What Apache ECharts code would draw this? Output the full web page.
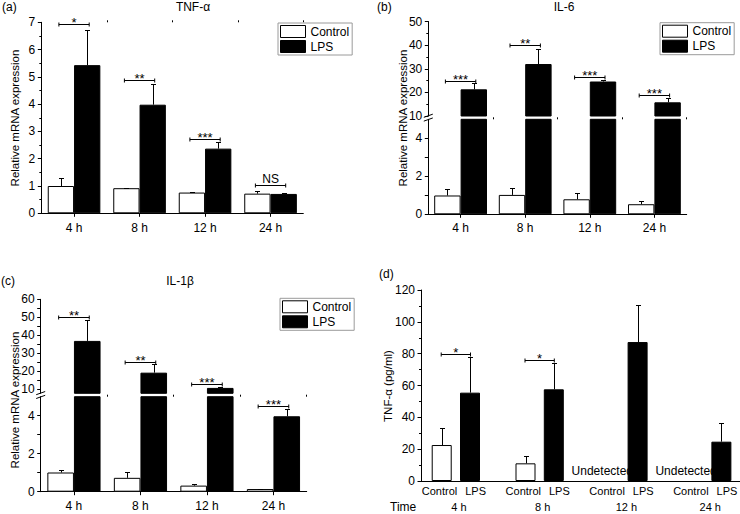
<!DOCTYPE html>
<html><head><meta charset="utf-8">
<script src="https://cdn.jsdelivr.net/npm/echarts@6/dist/echarts.min.js"></script>
<style>html,body{margin:0;padding:0;background:#fff}#c{width:740px;height:514px}</style>
</head><body><div id="c"></div>
<script>
// ---------- data ----------
const hours = ['4 h', '8 h', '12 h', '24 h'];
const groupNames = ['Control', 'LPS'];

// (a) TNF-α mRNA
const aControl = [1.00, 0.92, 0.76, 0.72];
const aControlErr = [0.28, 0.02, 0.02, 0.08];
const aLPS = [5.43, 3.98, 2.37, 0.71];
const aLPSErr = [1.29, 0.75, 0.23, 0.03];
const aSig = ['*', '**', '***', 'NS'];
const aSigY = [6.94, 4.89, 2.72, 1.04];

// (b) IL-6 mRNA
const bControl = [0.99, 1.02, 0.79, 0.53];
const bControlErr = [0.35, 0.39, 0.32, 0.16];
const bLPS = [21.3, 32.0, 24.6, 15.8];
const bLPSErr = [2.8, 6.5, 0.5, 1.7];
const bSig = ['***', '**', '***', '***'];
const bSigY = [24.8, 40.0, 26.3, 18.9];

// (c) IL-1β mRNA
const cControl = [1.01, 0.73, 0.32, 0.14];
const cControlErr = [0.12, 0.31, 0.10, 0.02];
const cLPS = [36.8, 19.1, 10.6, 3.97];
const cLPSErr = [11.5, 4.6, 0.3, 0.39];
const cSig = ['**', '**', '***', '***'];
const cSigY = [50.2, 25.2, 12.8, 4.53];

// (d) TNF-α protein (pg/ml)
const dControl = [22.6, 11.1, null, null];
const dControlErr = [10.9, 4.6, null, null];
const dLPS = [55.5, 57.6, 87.3, 24.7];
const dLPSErr = [22.2, 16.7, 23.2, 11.5];
const dSig = ['*', '*', null, null];
const dSigY = [79.6, 76.2, null, null];
const dUndetected = [false, false, true, true];
const undetectedText = 'Undetected';

// tick labels
const catTicks = [0, 1, 2, 3];
const catBoundaryTicks = [0.5, 1.5, 2.5, 3.5];
const lowerBreakLabels = [0, 2, 4];
const lowerBreakTicks = [0, 1, 2, 3, 4];
const cUpperLabels = [10, 20, 30, 40, 50, 60];
const cUpperTicks = [10, 15, 20, 25, 30, 35, 40, 45, 50, 55, 60];

// ---------- helpers ----------
const FONT = '"Liberation Sans", Arial, Helvetica, sans-serif';
const BLACK = '#000';

function grid(left, top, width, height) {
  return {left, top, width, height, containLabel: false, outerBoundsMode: 'none'};
}
function mainX(gi, min, max, margin) {
  return {type: 'value', gridIndex: gi, min, max,
    axisLine: {show: true, onZero: false, lineStyle: {color: BLACK, width: 1}},
    axisTick: {show: true, length: 3.5, customValues: catTicks, lineStyle: {color: BLACK}},
    axisLabel: {show: true, customValues: catTicks, formatter: v => hours[Math.round(v)] || '',
      color: BLACK, fontSize: 12, fontFamily: FONT, margin},
    splitLine: {show: false}};
}
function auxX(gi, min, max) {
  return {type: 'value', gridIndex: gi, min, max,
    axisLine: {show: false, onZero: false},
    axisTick: {show: true, length: 2, customValues: catBoundaryTicks, lineStyle: {color: BLACK}},
    axisLabel: {show: false}, splitLine: {show: false}};
}
function hiddenX(gi, min, max) {
  return {type: 'value', gridIndex: gi, min, max, show: false,
    axisLine: {onZero: false}, splitLine: {show: false}};
}
function valY(gi, min, max, extra) {
  const ax = {type: 'value', gridIndex: gi, min, max,
    axisLine: {show: true, onZero: false, lineStyle: {color: BLACK, width: 1}},
    axisTick: {show: true, length: 3.5, lineStyle: {color: BLACK}},
    axisLabel: {color: BLACK, fontSize: 12, fontFamily: FONT, margin: 6},
    splitLine: {show: false}};
  if (extra.interval != null) ax.interval = extra.interval;
  if (extra.minor) ax.minorTick = {show: true, splitNumber: 2, length: 2, lineStyle: {color: BLACK}};
  if (extra.labels) ax.axisLabel.customValues = extra.labels;
  if (extra.ticks) ax.axisTick.customValues = extra.ticks;
  return ax;
}

const ctrlStyle = {color: '#fff', borderColor: BLACK, borderWidth: 1};
const lpsStyle = {color: BLACK, borderColor: BLACK, borderWidth: 1};

function bars(ctrlData, lps, xi, yi, w, gap) {
  return [
    {type: 'bar', name: groupNames[0], xAxisIndex: xi, yAxisIndex: yi, barWidth: w, barGap: gap,
      z: 2, clip: true, itemStyle: ctrlStyle, data: ctrlData},
    {type: 'bar', name: groupNames[1], xAxisIndex: xi, yAxisIndex: yi, barWidth: w, barGap: gap,
      z: 3, clip: true, itemStyle: lpsStyle, data: lps.map((v, i) => [i, v])}
  ];
}
function errSeries(vals, errs, side, half, xi, yi, lo, hi) {
  const data = [];
  vals.forEach((v, i) => {
    if (v == null || errs[i] == null) return;
    if (v < lo || v > hi) return;
    data.push([i, v, v + errs[i]]);
  });
  return {type: 'custom', xAxisIndex: xi, yAxisIndex: yi, z: 5, silent: true, data,
    renderItem: (params, api) => {
      const b = api.coord([api.value(0), api.value(1)]);
      const t = api.coord([api.value(0), api.value(2)]);
      const x = Math.round(b[0] + side * half) + 0.5;
      const ty = Math.round(t[1]) + 0.5;
      return {type: 'group', children: [
        {type: 'line', shape: {x1: x, y1: b[1], x2: x, y2: ty}, style: {stroke: BLACK, lineWidth: 1}},
        {type: 'line', shape: {x1: x - 2.5, y1: ty, x2: x + 2.5, y2: ty}, style: {stroke: BLACK, lineWidth: 1}}
      ]};
    }};
}
function sigSeries(labels, ys, half, ext, xi, yi, lo, hi) {
  const data = [], texts = [];
  ys.forEach((y, i) => {
    if (y == null || labels[i] == null) return;
    if (y < lo || y > hi) return;
    data.push([i, y]); texts.push(labels[i]);
  });
  return {type: 'custom', xAxisIndex: xi, yAxisIndex: yi, z: 6, silent: true, data,
    renderItem: (params, api) => {
      const p = api.coord([api.value(0), api.value(1)]);
      const y = Math.round(p[1]) + 0.5;
      const x1 = p[0] - half - ext, x2 = p[0] + half + ext;
      const t = texts[params.dataIndex];
      const star = /^\*+$/.test(t);
      return {type: 'group', children: [
        {type: 'line', shape: {x1, y1: y, x2, y2: y}, style: {stroke: BLACK, lineWidth: 1}},
        {type: 'line', shape: {x1, y1: y - 2, x2: x1, y2: y + 2}, style: {stroke: BLACK, lineWidth: 1}},
        {type: 'line', shape: {x1: x2, y1: y - 2, x2, y2: y + 2}, style: {stroke: BLACK, lineWidth: 1}},
        {type: 'text', x: p[0], y: y + (star ? 4 : -0.5),
          style: {text: t, fill: BLACK, fontSize: star ? 13 : 12, fontFamily: FONT,
            align: 'center', textAlign: 'center', verticalAlign: 'bottom', textVerticalAlign: 'bottom'}}
      ]};
    }};
}
function legendAt(left, top) {
  return {left, top, orient: 'vertical', icon: 'rect', itemWidth: 25, itemHeight: 12, itemGap: 2,
    padding: [2, 3, 2, 2], borderColor: '#9a9a9a', borderWidth: 1, selectedMode: false,
    textStyle: {fontSize: 12, color: BLACK, fontFamily: FONT},
    data: [{name: groupNames[0], itemStyle: ctrlStyle}, {name: groupNames[1], itemStyle: lpsStyle}]};
}
function txt(text, x, y, align) {
  return {type: 'text', x, y, style: {text, fill: BLACK, fontSize: 12, fontFamily: FONT,
    align, textAlign: align, verticalAlign: 'middle', textVerticalAlign: 'middle'}};
}
function ytxt(text, x, y) {
  return {type: 'text', x, y, rotation: Math.PI / 2, style: {text, fill: BLACK, fontSize: 11.5, fontFamily: FONT,
    align: 'center', textAlign: 'center', verticalAlign: 'middle', textVerticalAlign: 'middle'}};
}
function breakMarks(ax, yc) {
  return [-1.9, 1.9].map(d => ({type: 'line', z: 10,
    shape: {x1: ax - 4.5, y1: yc + d + 1.6, x2: ax + 4.5, y2: yc + d - 1.6},
    style: {stroke: BLACK, lineWidth: 1}}));
}

// ---------- layout ----------
const dMin = -0.416, dMax = 3.391;
const grids = [
  grid(41.3, 22.3, 262, 191),      // 0 a
  grid(428.3, 119.3, 258.4, 95),   // 1 b lower
  grid(428.3, 21.5, 258.4, 94.5),  // 2 b upper
  grid(40.7, 396.7, 266, 95),      // 3 c lower
  grid(40.7, 299.3, 266, 94),      // 4 c upper
  grid(421, 290, 319, 191)         // 5 d
];
const cUpperMin = 7.6;

const xAxes = [
  mainX(0, -0.5, 3.5, 9),    // 0
  auxX(0, -0.5, 3.5),        // 1
  mainX(1, -0.5, 3.5, 8),    // 2
  auxX(1, -0.5, 3.5),        // 3
  hiddenX(2, -0.5, 3.5),     // 4
  mainX(3, -0.5, 3.5, 8),    // 5
  auxX(3, -0.5, 3.5),        // 6
  hiddenX(4, -0.5, 3.5),     // 7
  {type: 'value', gridIndex: 5, min: dMin, max: dMax,   // 8
    axisLine: {show: true, onZero: false, lineStyle: {color: BLACK, width: 1}},
    axisTick: {show: false},
    axisLabel: {show: true, customValues: catTicks, margin: 2, color: BLACK, fontFamily: FONT,
      formatter: v => '{c|' + groupNames[0] + '}{l|' + groupNames[1] + '}\n{t|' + (hours[Math.round(v)] || '') + '}',
      rich: {
        c: {width: 39.5, fontSize: 11, lineHeight: 16, fontFamily: FONT, color: BLACK},
        l: {width: 32.7, fontSize: 11, lineHeight: 16, fontFamily: FONT, color: BLACK},
        t: {align: 'center', fontSize: 11, lineHeight: 16, fontFamily: FONT, color: BLACK, padding: [0, 0, 0, 6]}
      }},
    splitLine: {show: false}}
];
const yAxes = [
  valY(0, 0, 7, {interval: 1, minor: true}),
  valY(1, 0, 5, {labels: lowerBreakLabels, ticks: lowerBreakTicks}),
  valY(2, 10, 50, {interval: 10, minor: true}),
  valY(3, 0, 5, {labels: lowerBreakLabels, ticks: lowerBreakTicks}),
  valY(4, cUpperMin, 60, {labels: cUpperLabels, ticks: cUpperTicks}),
  valY(5, 0, 120, {interval: 20, minor: true})
];

const series = [];
// (a)
const aHalf = 13.15;
series.push(...bars(aControl.map((v, i) => [i, v]), aLPS, 0, 0, 26.3, '0%'));
series.push(errSeries(aControl, aControlErr, -1, aHalf, 0, 0, 0, 7));
series.push(errSeries(aLPS, aLPSErr, 1, aHalf, 0, 0, 0, 7));
series.push(sigSeries(aSig, aSigY, aHalf, 2, 0, 0, 0, 7));
// (b) lower and upper segments
const bHalf = 13.2;
[[2, 1, 0, 5], [4, 2, 10, 50]].forEach(([xi, yi, lo, hi]) => {
  series.push(...bars(bControl.map((v, i) => [i, v]), bLPS, xi, yi, 26.4, '0%'));
  series.push(errSeries(bControl, bControlErr, -1, bHalf, xi, yi, lo, hi));
  series.push(errSeries(bLPS, bLPSErr, 1, bHalf, xi, yi, lo, hi));
  series.push(sigSeries(bSig, bSigY, bHalf, 2, xi, yi, lo, hi));
});
// (c) lower and upper segments
const cHalf = 13.3;
[[5, 3, 0, 5], [7, 4, cUpperMin, 60]].forEach(([xi, yi, lo, hi]) => {
  series.push(...bars(cControl.map((v, i) => [i, v]), cLPS, xi, yi, 26.6, '0%'));
  series.push(errSeries(cControl, cControlErr, -1, cHalf, xi, yi, lo, hi));
  series.push(errSeries(cLPS, cLPSErr, 1, cHalf, xi, yi, lo, hi));
  series.push(sigSeries(cSig, cSigY, cHalf, 2, xi, yi, lo, hi));
});
// (d)
const dHalf = 14.15;
const dControlData = dControl.map((v, i) => dUndetected[i]
  ? {value: [i, 0], itemStyle: {color: 'rgba(0,0,0,0)', borderWidth: 0},
     label: {show: true, position: 'top', distance: 4, offset: [-7, 0], formatter: undetectedText,
       fontSize: 12, fontFamily: FONT, color: BLACK}}
  : [i, v]);
series.push(...bars(dControlData, dLPS, 8, 5, 20, '41.5%'));
series.push(errSeries(dControl, dControlErr, -1, dHalf, 8, 5, 0, 120));
series.push(errSeries(dLPS, dLPSErr, 1, dHalf, 8, 5, 0, 120));
series.push(sigSeries(dSig, dSigY, dHalf, 0.5, 8, 5, 0, 120));

const graphics = [
  txt('(a)', 2, 7, 'left'), txt('TNF-α', 193, 7, 'center'),
  txt('(b)', 377, 7, 'left'), txt('IL-6', 564, 7, 'center'),
  txt('(c)', 1, 281, 'left'), txt('IL-1β', 180, 281, 'center'),
  txt('(d)', 379, 274, 'left'),
  ytxt('Relative mRNA expression', 15, 118),
  ytxt('Relative mRNA expression', 403, 118),
  ytxt('Relative mRNA expression', 15, 400),
  ytxt('TNF-α (pg/ml)', 388, 386),
  txt('Time', 390, 507, 'left'),
  ...breakMarks(428.3, 117.65),
  ...breakMarks(40.7, 395)
];

const chart = echarts.init(document.getElementById('c'), null, {renderer: 'svg', width: 740, height: 514});
chart.setOption({
  animation: false,
  backgroundColor: '#fff',
  textStyle: {fontFamily: FONT},
  grid: grids,
  xAxis: xAxes,
  yAxis: yAxes,
  legend: [legendAt(278, 23), legendAt(660, 22.7), legendAt(280, 298.3)],
  graphic: {elements: graphics},
  series
});
</script>
</body></html>
